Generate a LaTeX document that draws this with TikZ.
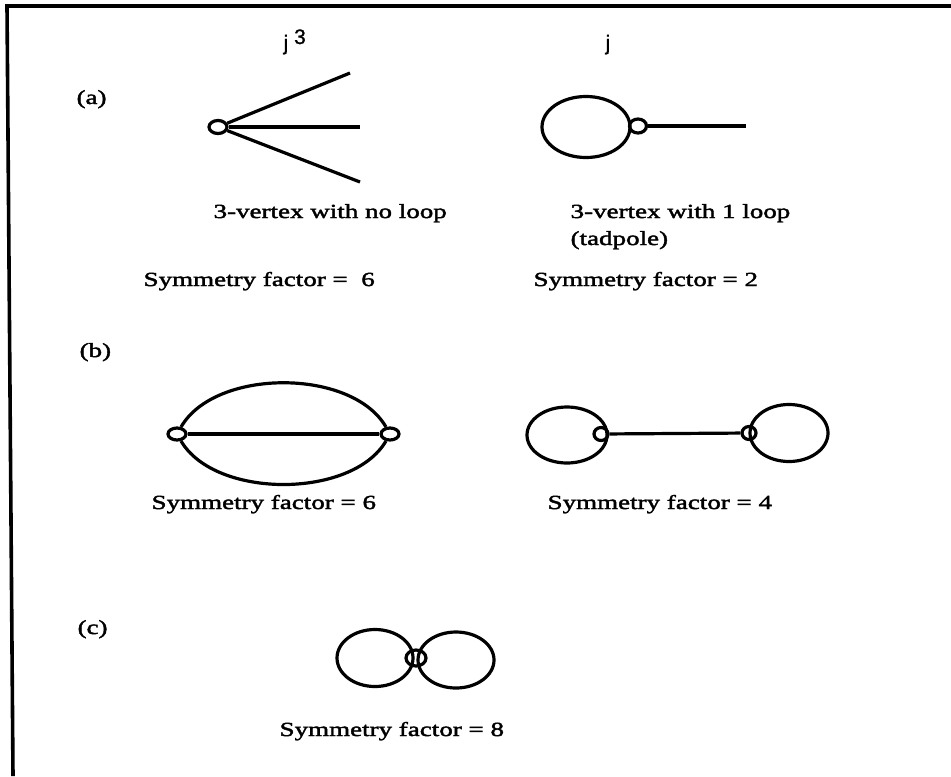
\documentclass[tikz,border=0pt]{standalone}
\usepackage{fontspec}
\setmainfont{Liberation Serif}
\newfontfamily\lblfont[FakeStretch=1.35,FakeBold=2]{Liberation Serif}
\newfontfamily\srcfont[FakeBold=1]{Liberation Sans}
\usetikzlibrary{shapes.geometric}

\begin{document}
\begin{tikzpicture}[
  x=0.5pt, y=-0.5pt,
  line width=1.6pt,
  vtx/.style={
    ellipse, draw, inner sep=0pt, minimum width=9pt, minimum height=6.5pt
  },
  loope/.style={
    ellipse, draw, inner sep=0pt, minimum width=40pt, minimum height=28pt
  },
  lbl/.style={
    anchor=base west, inner sep=0pt,
    font=\lblfont\fontsize{10}{12}\selectfont
  },
  src/.style={
    anchor=base west, inner sep=0pt,
    font=\srcfont\fontsize{10.5}{12}\selectfont
  },
  frame/.style={line width=1.8pt},
]
\useasboundingbox (0,0) rectangle (951,776);

%% Frame (top and left edges)
\draw[frame] (951,6) -- (7,6) -- (13,776);

%% (a) 3-vertex with no loop
\node[lbl] (la) at (75,104) {(a)};
\node[src] (ja) at (282,50) {j~\raisebox{3pt}{3}};
\node[vtx] (va) at (218,127) {};
\coordinate (a1) at (350,73);
\coordinate (a2) at (360,127);
\coordinate (a3) at (360,182);
\draw (va) -- (a1);
\draw (va) -- (a2);
\draw (va) -- (a3);
\node[lbl] (ta) at (212,218) {3-vertex with no loop};
\node[lbl] (sa) at (142,286) {Symmetry factor =\ \ 6};

%% (a) tadpole
\node[src] (jt) at (604,50) {j};
\node[loope, minimum width=44pt, minimum height=30.5pt] (tl) at (586,127) {};
\node[vtx, minimum width=8.5pt, minimum height=7pt] (tv) at (638,126) {};
\coordinate (t1) at (746,126);
\draw (tv) -- (t1);
\node[lbl] (tt) at (569,218) {3-vertex with 1 loop};
\node[lbl] (tp) at (569,245) {(tadpole)};
\node[lbl] (st) at (532,286) {Symmetry factor = 2};

%% (b) sunset
\node[lbl] (lb) at (78,357) {(b)};
\node[vtx, minimum height=6pt] (sl) at (177,434) {};
\node[vtx, minimum height=6pt] (sr) at (390,434) {};
\draw (sl) -- (sr);
\draw (sl.60) .. controls (215,368) and (352,368) .. (sr.120);
\draw (sl.-60) .. controls (215,499) and (352,499) .. (sr.-120);
\node[lbl] (sb) at (150,509) {Symmetry factor = 6};

%% (b) dumbbell
\node[loope] (dl) at (567,435) {};
\node[loope, minimum width=39pt, minimum height=28.5pt] (dr) at (789,433) {};
\node[vtx, minimum width=7pt] (dv1) at (601,434) {};
\node[vtx, minimum width=7pt] (dv2) at (749,433) {};
\draw (dv1) -- (dv2);
\node[lbl] (sd) at (546,509) {Symmetry factor = 4};

%% (c) figure eight
\node[lbl] (lc) at (76,634) {(c)};
\node[loope, minimum width=38pt, minimum height=28.5pt] (cl) at (375,658) {};
\node[loope, minimum width=38pt, minimum height=28pt] (cr) at (456,660) {};
\node[vtx, minimum width=10pt, minimum height=8pt] (cv) at (416,658) {};
\node[lbl] (sc) at (278,736) {Symmetry factor = 8};

\end{tikzpicture}
\end{document}
